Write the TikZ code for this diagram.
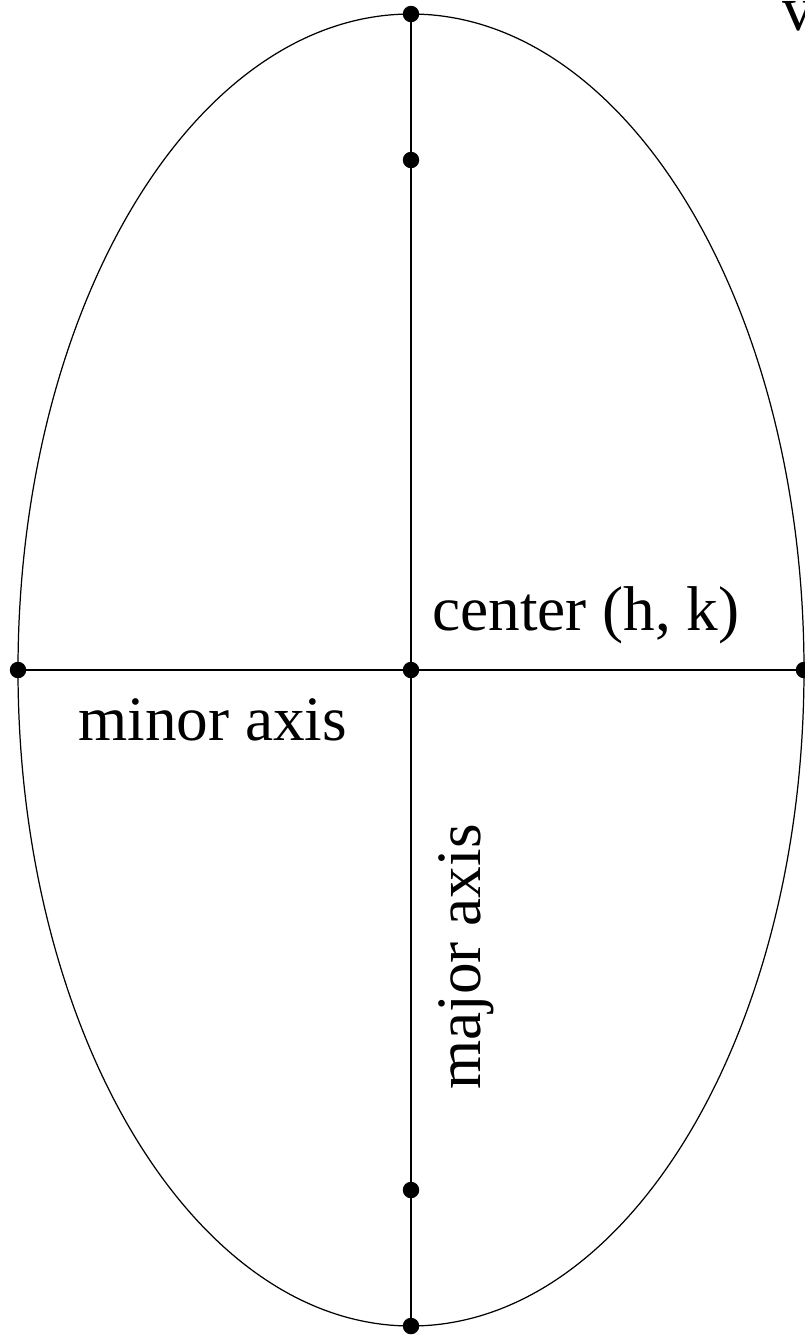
\documentclass[tikz,border=0pt]{standalone}
\usepackage{fontspec}
\setmainfont{Liberation Serif}
\usepackage{tikz}
\tikzset{
  dot/.style={circle, fill=black, inner sep=0pt, minimum size=0.33cm},
  axis/.style={line width=0.9pt},
  curve/.style={line width=0.7pt},
  lbl/.style={font=\fontsize{36}{40}\selectfont, inner sep=0pt},
}

\begin{document}
\begin{tikzpicture}[x=0.02cm, y=-0.02cm]
  \useasboundingbox (0,0) rectangle (805,1340);
  % points of the ellipse
  \node[dot] (ctr) at (411,670) {};
  \node[dot] (vtop) at (411,14) {};
  \node[dot] (vbot) at (411,1326) {};
  \node[dot] (ftop) at (411,160) {};
  \node[dot] (fbot) at (411,1190) {};
  \node[dot] (left) at (18,670) {};
  \node[dot] (right) at (804,670) {};

  \draw[curve] (ctr.center) ellipse [x radius=393, y radius=656];
  \draw[axis] (vtop.center) -- (vbot.center);
  \draw[axis] (left.center) -- (right.center);

  % labels
  \node[lbl, anchor=base west] (ctrlbl) at (432,630) {center (h, k)};
  \node[lbl, anchor=base west] (minorlbl) at (78,740) {minor axis};
  \node[lbl, rotate=90] (majorlbl) at (466,957) {major axis};
  \node[lbl, anchor=base west] (vtxlbl) at (782,30) {v};
\end{tikzpicture}
\end{document}
